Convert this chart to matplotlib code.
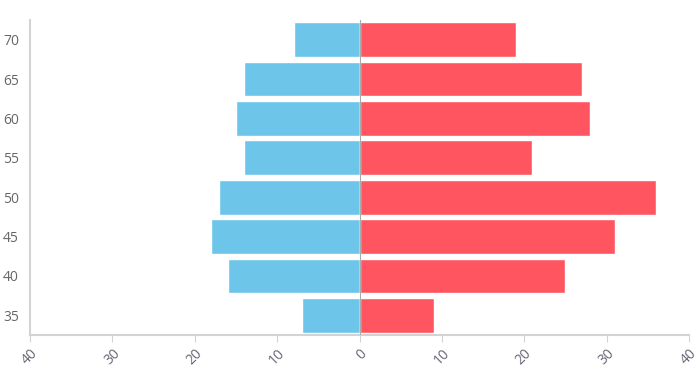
import matplotlib.pyplot as plt

ages = [35, 40, 45, 50, 55, 60, 65, 70]
left_vals = [7, 16, 18, 17, 14, 15, 14, 8]
right_vals = [9, 25, 31, 36, 21, 28, 27, 19]
x_ticks = [-40, -30, -20, -10, 0, 10, 20, 30, 40]

plt.rcParams['font.family'] = ['Open Sans', 'DejaVu Sans']

fig = plt.figure(figsize=(6.97, 3.75), dpi=100)
ax = fig.add_axes([30 / 697, 40 / 375, 659 / 697, 315 / 375])

pos = list(range(len(ages)))
ax.barh(pos, [-v for v in left_vals], height=0.88, color='#6dc5ea',
        edgecolor='white', linewidth=1, zorder=2)
ax.barh(pos, right_vals, height=0.88, color='#ff5560',
        edgecolor='white', linewidth=1, zorder=2)
ax.axvline(0, color='#aaaaaa', linewidth=0.8, zorder=3)

ax.set_xlim(-40, 40)
ax.set_ylim(-0.5, len(ages) - 0.5)
ax.set_yticks(pos)
ax.set_yticklabels([str(a) for a in ages])
ax.set_xticks(x_ticks)
ax.set_xticklabels([str(abs(t)) for t in x_ticks], rotation=45,
                   ha='right', va='top', rotation_mode='anchor')

for side in ['top', 'right']:
    ax.spines[side].set_visible(False)
ax.spines['left'].set_color('#d3d3d3')
ax.spines['bottom'].set_color('#d3d3d3')
ax.spines['left'].set_linewidth(1.5)
ax.spines['bottom'].set_linewidth(1.5)

ax.tick_params(axis='y', length=0, pad=8, labelsize=10, labelcolor='#666666')
ax.tick_params(axis='x', length=5, color='#d3d3d3', pad=3, labelsize=10,
               labelcolor='#666677')

fig.savefig('out.png', dpi=100)
